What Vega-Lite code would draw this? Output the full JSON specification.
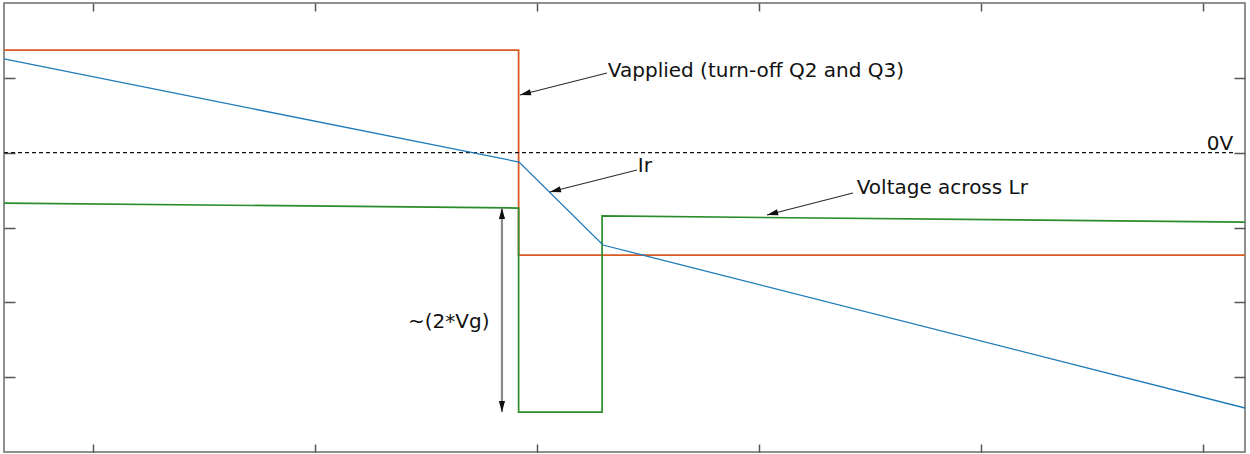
{
  "$schema": "https://vega.github.io/schema/vega-lite/v6.json",
  "width": 1241,
  "height": 449,
  "autosize": {"type": "none"},
  "padding": {"left": 4, "top": 3, "right": 5, "bottom": 2},
  "background": "white",
  "config": {
    "view": {"stroke": "#6b6b6b", "strokeWidth": 1.5},
    "axis": {
      "domain": false,
      "labels": false,
      "title": null,
      "grid": false,
      "tickColor": "#555555",
      "tickWidth": 1.5
    },
    "text": {"font": "DejaVu Sans", "fontSize": 20, "color": "#111111", "align": "left", "baseline": "middle"}
  },
  "datasets": {
    "waves": [
      {"signal": "Vapplied", "k": 0, "t": -0.4, "v": 1.37},
      {"signal": "Vapplied", "k": 1, "t": 1.918, "v": 1.37},
      {"signal": "Vapplied", "k": 2, "t": 1.918, "v": -1.368},
      {"signal": "Vapplied", "k": 3, "t": 5.19, "v": -1.368},
      {"signal": "Ir", "k": 0, "t": -0.4, "v": 1.252},
      {"signal": "Ir", "k": 1, "t": 1.92, "v": -0.125},
      {"signal": "Ir", "k": 2, "t": 2.298, "v": -1.234},
      {"signal": "Ir", "k": 3, "t": 5.19, "v": -3.412},
      {"signal": "VLr", "k": 0, "t": -0.4, "v": -0.673},
      {"signal": "VLr", "k": 1, "t": 1.918, "v": -0.74},
      {"signal": "VLr", "k": 2, "t": 1.918, "v": -3.466},
      {"signal": "VLr", "k": 3, "t": 2.294, "v": -3.466},
      {"signal": "VLr", "k": 4, "t": 2.294, "v": -0.846},
      {"signal": "VLr", "k": 5, "t": 5.19, "v": -0.927}
    ],
    "pointers": [
      {"name": "Vapplied", "t0": 2.316, "v0": 1.065, "t1": 1.924, "v1": 0.771},
      {"name": "Ir", "t0": 2.451, "v0": -0.232, "t1": 2.059, "v1": -0.526},
      {"name": "VLr", "t0": 3.424, "v0": -0.539, "t1": 3.037, "v1": -0.833}
    ],
    "span": [
      {"t": 1.843, "top": -0.74, "bottom": -3.466}
    ],
    "labels": [
      {"text": "Vapplied (turn-off Q2 and Q3)", "t": 2.32, "v": 1.091},
      {"text": "Ir", "t": 2.455, "v": -0.178},
      {"text": "Voltage across Lr", "t": 3.441, "v": -0.472},
      {"text": "~(2*Vg)", "t": 1.42, "v": -2.263},
      {"text": "0V", "t": 5.018, "v": 0.116}
    ],
    "zero": [
      {"t0": -0.4, "t1": 5.149, "v": 0}
    ]
  },
  "layer": [
    {
      "data": {"name": "waves"},
      "transform": [{"filter": "datum.signal === 'Vapplied'"}],
      "mark": {"type": "line", "color": "#d95a22", "strokeWidth": 1.8, "interpolate": "linear"},
      "encoding": {
        "x": {"field": "t", "type": "quantitative", "scale": {"domain": [-0.4, 5.19], "nice": false, "zero": false},
              "axis": {"orient": "bottom", "values": [0, 1, 2, 3, 4, 5], "tickSize": -8}},
        "y": {"field": "v", "type": "quantitative", "scale": {"domain": [-4, 2], "nice": false, "zero": false},
              "axis": {"orient": "left", "values": [-3, -2, -1, 0, 1], "tickSize": -11}},
        "order": {"field": "k"}
      }
    },
    {
      "data": {"name": "zero"},
      "mark": {"type": "rule", "color": "#111111", "strokeWidth": 1.3, "strokeDash": [4, 3]},
      "encoding": {
        "x": {"field": "t0", "type": "quantitative", "scale": {"domain": [-0.4, 5.19], "nice": false, "zero": false},
              "axis": {"orient": "top", "values": [0, 1, 2, 3, 4, 5], "tickSize": -8}},
        "x2": {"field": "t1"},
        "y": {"field": "v", "type": "quantitative", "scale": {"domain": [-4, 2], "nice": false, "zero": false},
              "axis": {"orient": "right", "values": [-3, -2, -1, 0, 1], "tickSize": -11}}
      }
    },
    {
      "data": {"name": "waves"},
      "transform": [{"filter": "datum.signal === 'VLr'"}],
      "mark": {"type": "line", "color": "#2a8c2a", "strokeWidth": 1.7, "interpolate": "linear"},
      "encoding": {
        "x": {"field": "t", "type": "quantitative", "scale": {"domain": [-0.4, 5.19], "nice": false, "zero": false}, "axis": null},
        "y": {"field": "v", "type": "quantitative", "scale": {"domain": [-4, 2], "nice": false, "zero": false}, "axis": null},
        "order": {"field": "k"}
      }
    },
    {
      "data": {"name": "waves"},
      "transform": [{"filter": "datum.signal === 'Ir'"}],
      "mark": {"type": "line", "color": "#1f7ab8", "strokeWidth": 1.3, "interpolate": "linear"},
      "encoding": {
        "x": {"field": "t", "type": "quantitative", "scale": {"domain": [-0.4, 5.19], "nice": false, "zero": false}, "axis": null},
        "y": {"field": "v", "type": "quantitative", "scale": {"domain": [-4, 2], "nice": false, "zero": false}, "axis": null},
        "order": {"field": "k"}
      }
    },
    {
      "data": {"name": "pointers"},
      "mark": {"type": "rule", "color": "#2b2b2b", "strokeWidth": 1.1},
      "encoding": {
        "x": {"field": "t0", "type": "quantitative", "scale": {"domain": [-0.4, 5.19], "nice": false, "zero": false}, "axis": null},
        "x2": {"field": "t1"},
        "y": {"field": "v0", "type": "quantitative", "scale": {"domain": [-4, 2], "nice": false, "zero": false}, "axis": null},
        "y2": {"field": "v1"}
      }
    },
    {
      "data": {"name": "pointers"},
      "mark": {"type": "point", "shape": "M0,0L-0.45,1.6L0.45,1.6Z", "filled": true, "color": "#111111", "opacity": 1, "size": 190, "angle": 256},
      "encoding": {
        "x": {"field": "t1", "type": "quantitative", "scale": {"domain": [-0.4, 5.19], "nice": false, "zero": false}, "axis": null},
        "y": {"field": "v1", "type": "quantitative", "scale": {"domain": [-4, 2], "nice": false, "zero": false}, "axis": null}
      }
    },
    {
      "data": {"name": "span"},
      "mark": {"type": "rule", "color": "#8a8a8a", "strokeWidth": 2.2},
      "encoding": {
        "x": {"field": "t", "type": "quantitative", "scale": {"domain": [-0.4, 5.19], "nice": false, "zero": false}, "axis": null},
        "y": {"field": "top", "type": "quantitative", "scale": {"domain": [-4, 2], "nice": false, "zero": false}, "axis": null},
        "y2": {"field": "bottom"}
      }
    },
    {
      "data": {"name": "span"},
      "mark": {"type": "point", "shape": "M0,0L-0.45,1.6L0.45,1.6Z", "filled": true, "color": "#111111", "opacity": 1, "size": 190, "angle": 0},
      "encoding": {
        "x": {"field": "t", "type": "quantitative", "scale": {"domain": [-0.4, 5.19], "nice": false, "zero": false}, "axis": null},
        "y": {"field": "top", "type": "quantitative", "scale": {"domain": [-4, 2], "nice": false, "zero": false}, "axis": null}
      }
    },
    {
      "data": {"name": "span"},
      "mark": {"type": "point", "shape": "M0,0L-0.45,1.6L0.45,1.6Z", "filled": true, "color": "#111111", "opacity": 1, "size": 190, "angle": 180},
      "encoding": {
        "x": {"field": "t", "type": "quantitative", "scale": {"domain": [-0.4, 5.19], "nice": false, "zero": false}, "axis": null},
        "y": {"field": "bottom", "type": "quantitative", "scale": {"domain": [-4, 2], "nice": false, "zero": false}, "axis": null}
      }
    },
    {
      "data": {"name": "labels"},
      "mark": {"type": "text"},
      "encoding": {
        "x": {"field": "t", "type": "quantitative", "scale": {"domain": [-0.4, 5.19], "nice": false, "zero": false}, "axis": null},
        "y": {"field": "v", "type": "quantitative", "scale": {"domain": [-4, 2], "nice": false, "zero": false}, "axis": null},
        "text": {"field": "text"}
      }
    }
  ],
  "resolve": {"axis": {"x": "independent", "y": "independent"}}
}
